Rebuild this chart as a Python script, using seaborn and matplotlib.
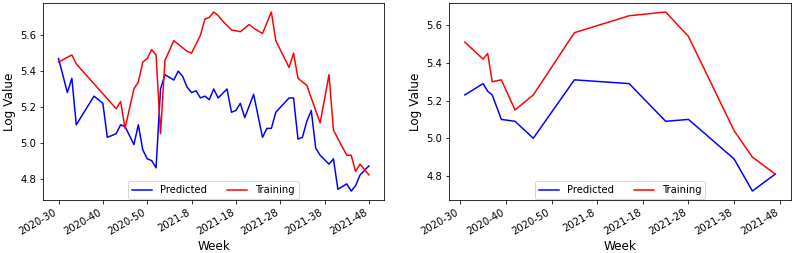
import matplotlib
matplotlib.use("Agg")
import matplotlib.pyplot as plt
import seaborn as sns
import pandas as pd

# week index (0 = 2020-30) and tick labels every 10 weeks
tick_pos = [0, 10, 20, 30, 40, 50, 60, 70]
tick_labels = ["2020-30", "2020-40", "2020-50", "2021-8",
               "2021-18", "2021-28", "2021-38", "2021-48"]

# left panel: weekly series
left_train_wk = [0, 3, 4, 13, 14, 15, 17, 18, 19, 20, 21, 22, 23, 24, 26, 27,
                 29, 30, 32, 33, 34, 35, 36, 37, 39, 41, 43, 44, 46, 48, 49,
                 52, 53, 54, 56, 59, 61, 62, 65, 66, 67, 68, 70]
left_train_val = [5.45, 5.49, 5.44, 5.19, 5.23, 5.08, 5.30, 5.34, 5.45, 5.47,
                  5.52, 5.49, 5.05, 5.46, 5.57, 5.55, 5.51, 5.50, 5.60, 5.69,
                  5.70, 5.73, 5.71, 5.68, 5.63, 5.62, 5.66, 5.64, 5.61, 5.73,
                  5.57, 5.42, 5.50, 5.36, 5.32, 5.11, 5.38, 5.07, 4.93, 4.93,
                  4.84, 4.88, 4.82]

left_pred_wk = [0, 2, 3, 4, 8, 10, 11, 13, 14, 15, 17, 18, 19, 20, 21, 22, 23,
                24, 26, 27, 28, 29, 30, 31, 32, 33, 34, 35, 36, 38, 39, 40, 41,
                42, 44, 46, 47, 48, 49, 52, 53, 54, 55, 56, 57, 58, 59, 61, 62,
                63, 65, 66, 67, 68, 70]
left_pred_val = [5.47, 5.28, 5.36, 5.10, 5.26, 5.22, 5.03, 5.05, 5.10, 5.09,
                 4.99, 5.10, 4.96, 4.91, 4.90, 4.86, 5.30, 5.38, 5.35, 5.40,
                 5.37, 5.31, 5.28, 5.29, 5.25, 5.26, 5.24, 5.30, 5.25, 5.30,
                 5.17, 5.18, 5.22, 5.14, 5.27, 5.03, 5.08, 5.08, 5.17, 5.25,
                 5.25, 5.02, 5.03, 5.12, 5.18, 4.97, 4.93, 4.88, 4.91, 4.74,
                 4.77, 4.73, 4.76, 4.82, 4.87]

# right panel: sparse weeks
right_wk = [1, 5, 6, 7, 9, 12, 16, 25, 37, 45, 50, 60, 64, 69]
right_pred = [5.23, 5.29, 5.25, 5.23, 5.10, 5.09, 5.00, 5.31, 5.29, 5.09,
              5.10, 4.89, 4.72, 4.81]
right_train = [5.51, 5.42, 5.45, 5.30, 5.31, 5.15, 5.23, 5.56, 5.65, 5.67,
               5.54, 5.04, 4.90, 4.81]

fig, axes = plt.subplots(1, 2, figsize=(11, 253 / 72), dpi=72)

panels = [
    (axes[0], left_pred_wk, left_pred_val, left_train_wk, left_train_val),
    (axes[1], right_wk, right_pred, right_wk, right_train),
]

for ax, pw, pv, tw, tv in panels:
    pred = pd.DataFrame({"week": pw, "value": pv})
    train = pd.DataFrame({"week": tw, "value": tv})
    sns.lineplot(data=pred, x="week", y="value", color="blue",
                 label="Predicted", ax=ax, linewidth=1.5)
    sns.lineplot(data=train, x="week", y="value", color="red",
                 label="Training", ax=ax, linewidth=1.5)
    ax.set_xticks(tick_pos)
    ax.set_xticklabels(tick_labels, rotation=30, ha="right")
    ax.set_yticks([4.8, 5.0, 5.2, 5.4, 5.6])
    ax.set_xlabel("Week", fontsize=12)
    ax.set_ylabel("Log Value", fontsize=12)
    ax.legend(loc="lower center", ncol=2, borderaxespad=0.05)

fig.subplots_adjust(left=0.0543, right=0.9984, top=0.988, bottom=0.2095,
                    wspace=0.19)
fig.savefig("out.png", dpi=72)
